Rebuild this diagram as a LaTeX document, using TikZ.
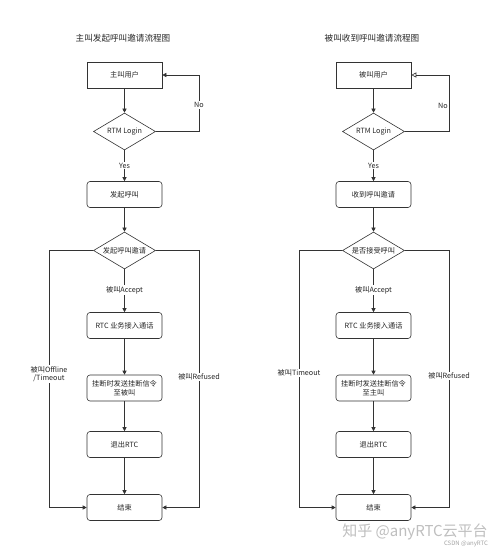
\documentclass[tikz,border=0pt]{standalone}
\usepackage{fontspec}
\setmainfont{Noto Sans CJK SC}
\usetikzlibrary{shapes.geometric,arrows.meta}
\begin{document}
\begin{tikzpicture}[x=1pt,y=-1pt,
  every node/.style={font=\fontsize{7.2}{8.6}\selectfont, text=black!85},
  sqbox/.style={draw=black!80, line width=0.6pt, minimum width=75pt, minimum height=26pt, inner sep=1pt, align=center},
  rbox/.style={sqbox, rounded corners=3pt},
  dia/.style={draw=black!80, line width=0.6pt, diamond, aspect=1.7, minimum width=62pt, minimum height=37pt, inner sep=0pt},
  lbl/.style={fill=white, inner sep=1pt, align=center},
  ttl/.style={font=\fontsize{8.6}{10}\selectfont},
  conn/.style={draw=black!80, line width=0.6pt, -{Triangle[length=4pt,width=4pt]}},
  oconn/.style={draw=black!80, line width=0.6pt, -{Triangle[open,length=5pt,width=5pt]}}]
\useasboundingbox[fill=white] (0,0) rectangle (500,553);

% ---------- left diagram ----------
\node[ttl] (t1) at (123,38) {主叫发起呼叫邀请流程图};
\node[sqbox] (a1) at (124.5,75) {主叫用户};
\node[dia] (a2) at (124.5,131.5) {RTM Login};
\node[rbox] (a3) at (124.5,194.5) {发起呼叫};
\node[dia] (a4) at (124.5,250.5) {发起呼叫邀请};
\node[rbox] (a5) at (124.5,325.5) {RTC 业务接入通话};
\node[rbox] (a6) at (124.5,388) {挂断时发送挂断信令\\至被叫};
\node[rbox] (a7) at (124.5,444.5) {退出RTC};
\node[rbox] (a8) at (124.5,507.5) {结束};
\coordinate (aR) at (199,0);
\coordinate (aL) at (49,0);

\draw[conn] (a1) -- (a2);
\draw[conn] (a2.east) -- (aR |- a2.east) -- (aR |- a1.east) -- (a1.east);
\node[lbl] (aNo) at (199,105) {No};
\draw[conn] (a2) -- node[lbl] (aYes) {Yes} (a3);
\draw[conn] (a3) -- (a4);
\draw[conn] (a4) -- node[lbl, pos=0.48] (aAcc) {被叫Accept} (a5);
\draw[conn] (a5) -- (a6);
\draw[conn] (a6) -- (a7);
\draw[conn] (a7) -- (a8);
\draw[conn] (a4.west) -- (aL |- a4.west) -- (aL |- a8.west) -- (a8.west);
\draw[conn] (a4.east) -- (aR |- a4.east) -- (aR |- a8.east) -- (a8.east);
\node[lbl] (aOff) at (49,374) {被叫Offline\\/Timeout};
\node[lbl] (aRef) at (199,377) {被叫Refused};

% ---------- right diagram ----------
\node[ttl] (t2) at (372,38) {被叫收到呼叫邀请流程图};
\node[sqbox] (b1) at (373.5,75) {被叫用户};
\node[dia] (b2) at (373.5,131.5) {RTM Login};
\node[rbox] (b3) at (373.5,194.5) {收到呼叫邀请};
\node[dia] (b4) at (373.5,250.5) {是否接受呼叫};
\node[rbox] (b5) at (373.5,325.5) {RTC 业务接入通话};
\node[rbox] (b6) at (373.5,388) {挂断时发送挂断信令\\至主叫};
\node[rbox] (b7) at (373.5,444.5) {退出RTC};
\node[rbox] (b8) at (373.5,507.5) {结束};
\coordinate (bR) at (449,0);
\coordinate (bL) at (299,0);

\draw[conn] (b1) -- (b2);
\draw[oconn] (b2.east) -- (bR |- b2.east) -- (bR |- b1.east) -- (b1.east);
\node[lbl] (bNo) at (443,106) {No};
\draw[conn] (b2) -- node[lbl] (bYes) {Yes} (b3);
\draw[conn] (b3) -- (b4);
\draw[conn] (b4) -- node[lbl, pos=0.48] (bAcc) {被叫Accept} (b5);
\draw[conn] (b5) -- (b6);
\draw[conn] (b6) -- (b7);
\draw[conn] (b7) -- (b8);
\draw[conn] (b4.west) -- (bL |- b4.west) -- (bL |- b8.west) -- (b8.west);
\draw[conn] (b4.east) -- (bR |- b4.east) -- (bR |- b8.east) -- (b8.east);
\node[lbl] (bTo) at (299,373) {被叫Timeout};
\node[lbl] (bRef) at (449,376) {被叫Refused};

% ---------- watermark ----------
\node[font=\fontsize{15}{16}\selectfont, text=black!25] (wm1) at (415,532) {知乎 @anyRTC云平台};
\node[font=\fontsize{6}{7}\selectfont, text=black!35] (wm2) at (466,543.5) {CSDN @anyRTC};
\end{tikzpicture}
\end{document}
